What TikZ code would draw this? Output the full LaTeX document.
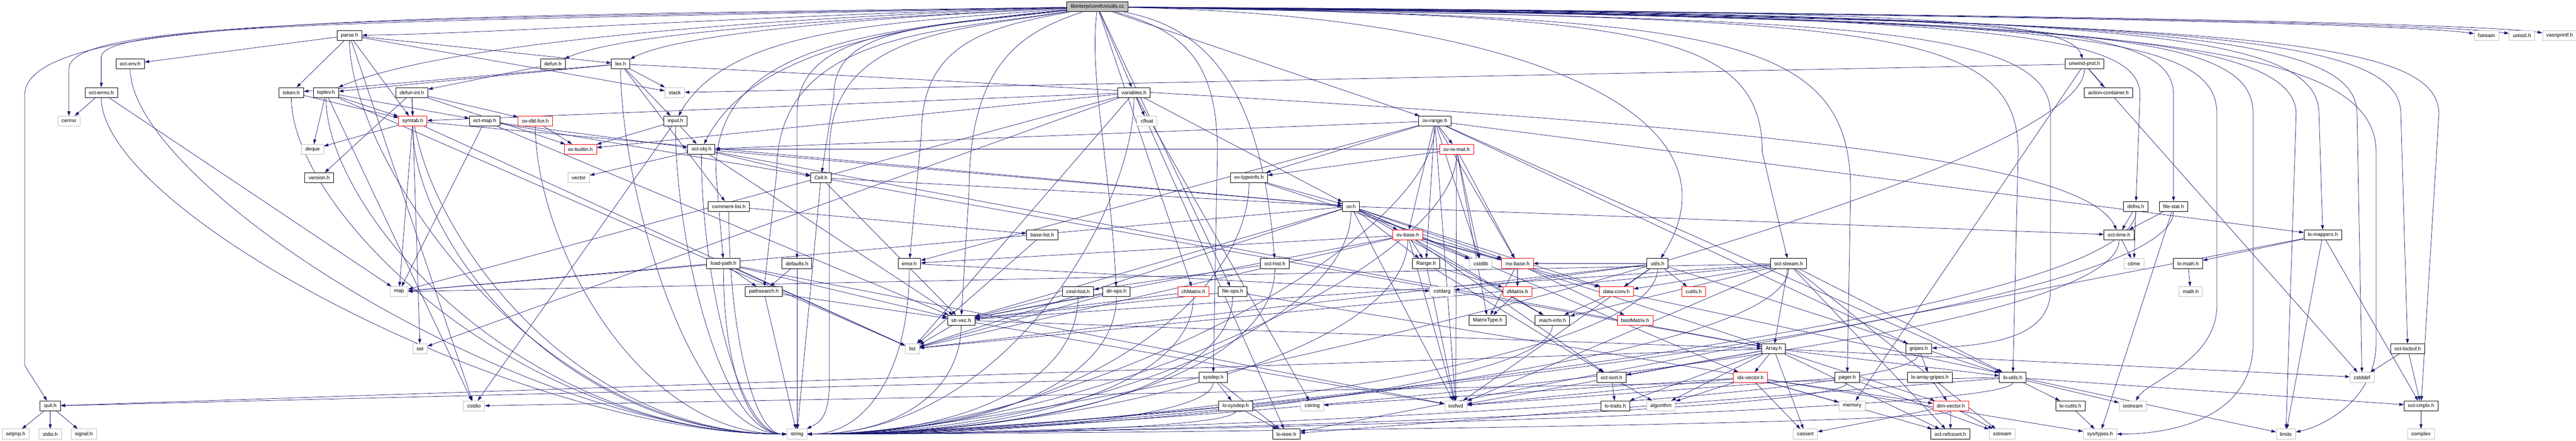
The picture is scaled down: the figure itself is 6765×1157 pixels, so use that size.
\documentclass[tikz,border=0pt]{standalone}
\usepackage{fontspec}
\setmainfont{Liberation Sans}
\usetikzlibrary{arrows.meta}
\definecolor{edgeblue}{RGB}{25,25,112}
\definecolor{sysgray}{RGB}{191,191,191}
\pgfdeclarelayer{bg}
\pgfsetlayers{bg,main}

\begin{document}
\begin{tikzpicture}[x=1pt, y=-1pt,
  box/.style={rectangle, fill=white, inner xsep=10pt, inner ysep=0pt, minimum height=26pt, font=\fontsize{13.5}{16}\selectfont, line width=1.3pt},
  hdr/.style={box, draw=black},
  sys/.style={box, draw=sysgray},
  trunc/.style={box, draw=red, line width=1pt},
  rootbox/.style={box, draw=black, fill=sysgray},
  incl/.style={draw=edgeblue, line width=1pt, -{Triangle[length=12pt,width=8pt]}}]
\useasboundingbox (0,0) rectangle (6765,1157);

\node[rootbox] (root) at (2882,18) {libinterp/corefcn/utils.cc};

\node[hdr] (parse) at (918,93) {parse.h};
\node[sys] (fstream) at (6530,93) {fstream};
\node[sys] (unistd) at (6623,93) {unistd.h};
\node[sys] (vasnprintf) at (6722,93) {vasnprintf.h};

\node[hdr] (octenv) at (342,168) {oct-env.h};
\node[hdr] (defun) at (1452,168) {defun.h};
\node[hdr] (lex) at (1630,168) {lex.h};
\node[hdr] (unwindprot) at (5474,168) {unwind-prot.h};

\node[hdr] (octerrno) at (266,243) {oct-errno.h};
\node[hdr] (token) at (765,243) {token.h};
\node[hdr] (toplev) at (856,243) {toplev.h};
\node[hdr] (defunint) at (1082,243) {defun-int.h};
\node[sys] (stack) at (1772,243) {stack};
\node[hdr] (variables) at (2978,243) {variables.h};
\node[hdr] (actioncontainer) at (5537,243) {action-container.h};

\node[sys] (cerrno) at (181,318) {cerrno};
\node[trunc] (symtab) at (1084,318) {symtab.h};
\node[hdr] (octmap) at (1273,318) {oct-map.h};
\node[trunc] (ovdldfcn) at (1406,318) {ov-dld-fcn.h};
\node[hdr] (input) at (1774,318) {input.h};
\node[sys] (cfloat) at (3012,318) {cfloat};
\node[hdr] (ovrange) at (3768,318) {ov-range.h};

\node[sys] (deque) at (821,392) {deque};
\node[trunc] (ovbuiltin) at (1524,392) {ov-builtin.h};
\node[hdr] (octobj) at (1842,392) {oct-obj.h};
\node[trunc] (ovremat) at (3825,392) {ov-re-mat.h};

\node[hdr] (version) at (838,467) {version.h};
\node[sys] (vector) at (1520,467) {vector};
\node[hdr] (cell) at (2156,467) {Cell.h};
\node[hdr] (ovtypeinfo) at (3280,467) {ov-typeinfo.h};

\node[hdr] (commentlist) at (1914,542) {comment-list.h};
\node[hdr] (ov) at (3548,542) {ov.h};
\node[hdr] (dirfns) at (5609,542) {dirfns.h};
\node[hdr] (filestat) at (5708,542) {file-stat.h};

\node[hdr] (baselist) at (2737,617) {base-list.h};
\node[trunc] (ovbase) at (3697,617) {ov-base.h};
\node[hdr] (octtime) at (5565,617) {oct-time.h};
\node[hdr] (lomappers) at (6100,617) {lo-mappers.h};

\node[hdr] (loadpath) at (1900,692) {load-path.h};
\node[hdr] (defaults) at (2093,692) {defaults.h};
\node[hdr] (error) at (2388,692) {error.h};
\node[hdr] (octhist) at (3348,692) {oct-hist.h};
\node[hdr] (range) at (3745,692) {Range.h};
\node[sys] (cstdlib) at (3889,692) {cstdlib};
\node[trunc] (mxbase) at (3985,692) {mx-base.h};
\node[hdr] (utilsh) at (4353,692) {utils.h};
\node[hdr] (octstream) at (4697,692) {oct-stream.h};
\node[sys] (ctime) at (5604,692) {ctime};
\node[hdr] (lomath) at (5746,692) {lo-math.h};

\node[sys] (map) at (1048,766) {map};
\node[hdr] (pathsearch) at (2006,766) {pathsearch.h};
\node[hdr] (cmdhist) at (2831,766) {cmd-hist.h};
\node[hdr] (dirops) at (2932,766) {dir-ops.h};
\node[trunc] (chmatrix) at (3134,766) {chMatrix.h};
\node[hdr] (fileops) at (3237,766) {file-ops.h};
\node[sys] (cstdarg) at (3787,766) {cstdarg};
\node[trunc] (dmatrix) at (3985,766) {dMatrix.h};
\node[trunc] (dataconv) at (4245,766) {data-conv.h};
\node[trunc] (cutils) at (4448,766) {cutils.h};
\node[sys] (mathh) at (5753,766) {math.h};

\node[hdr] (strvec) at (2524,841) {str-vec.h};
\node[hdr] (matrixtype) at (3907,841) {MatrixType.h};
\node[hdr] (machinfo) at (4077,841) {mach-info.h};
\node[trunc] (boolmatrix) at (4294,841) {boolMatrix.h};

\node[sys] (set) at (1103,916) {set};
\node[sys] (list) at (2396,916) {list};
\node[hdr] (array) at (4658,916) {Array.h};
\node[hdr] (gripes) at (5039,916) {gripes.h};
\node[hdr] (octlocbuf) at (6323,916) {oct-locbuf.h};

\node[hdr] (sysdep) at (3186,991) {sysdep.h};
\node[hdr] (octsort) at (4232,991) {oct-sort.h};
\node[trunc] (idxvector) at (4597,991) {idx-vector.h};
\node[hdr] (pager) at (4851,991) {pager.h};
\node[hdr] (loarraygripes) at (5068,991) {lo-array-gripes.h};
\node[hdr] (loutils) at (5286,991) {lo-utils.h};
\node[sys] (cstddef) at (6203,991) {cstddef};

\node[hdr] (quit) at (132,1066) {quit.h};
\node[sys] (cstdio) at (1245,1066) {cstdio};
\node[hdr] (losysdep) at (3245,1066) {lo-sysdep.h};
\node[sys] (cstring) at (3446,1066) {cstring};
\node[sys] (iosfwd) at (3823,1066) {iosfwd};
\node[hdr] (lotraits) at (4242,1066) {lo-traits.h};
\node[sys] (algorithm) at (4362,1066) {algorithm};
\node[sys] (memory) at (4864,1066) {memory};
\node[trunc] (dimvector) at (5123,1066) {dim-vector.h};
\node[hdr] (locutils) at (5437,1066) {lo-cutils.h};
\node[sys] (iostream) at (5601,1066) {iostream};
\node[hdr] (octcmplx) at (6358,1066) {oct-cmplx.h};

\node[sys] (setjmp) at (41,1140) {setjmp.h};
\node[sys] (stdioh) at (132,1140) {stdio.h};
\node[sys] (signalh) at (220,1140) {signal.h};
\node[sys] (string) at (2093,1140) {string};
\node[hdr] (loieee) at (3378,1140) {lo-ieee.h};
\node[sys] (cassert) at (4741,1140) {cassert};
\node[hdr] (octrefcount) at (5122,1140) {oct-refcount.h};
\node[sys] (sstream) at (5258,1140) {sstream};
\node[sys] (systypes) at (5515,1140) {sys/types.h};
\node[sys] (limits) at (6003,1140) {limits};
\node[sys] (complex) at (6358,1140) {complex};

\begin{pgfonlayer}{bg}
\draw[incl] (root) .. controls (2000,40) and (1300,88) .. (parse);
\draw[incl] (root) .. controls (1200,55) and (266,55) .. (266,150) -- (octerrno);
\draw[incl] (root) .. controls (1100,50) and (181,50) .. (181,180) -- (cerrno);
\draw[incl] (root) .. controls (1000,45) and (65,45) .. (65,250) -- (65,960) -- (quit);
\draw[incl] (root) .. controls (1900,50) and (1150,120) .. (toplev);
\draw[incl] (root) .. controls (2300,45) and (1650,80) .. (defun);
\draw[incl] (root) .. controls (2400,40) and (1800,80) .. (lex);
\draw[incl] (root) .. controls (2300,60) and (1910,80) .. (input);
\draw[incl] (root) .. controls (2400,65) and (1980,120) .. (octobj);
\draw[incl] (root) .. controls (2400,70) and (2190,80) .. (2190,250) -- (cell);
\draw[incl] (root) .. controls (2500,80) and (2178,90) .. (2178,400) -- (2178,1000) .. controls (2178,1100) and (2150,1110) .. (string);
\draw[incl] (root) .. controls (2300,80) and (1880,110) .. (1880,450) -- (loadpath);
\draw[incl] (root) .. controls (2400,75) and (2093,80) .. (2093,300) -- (defaults);
\draw[incl] (root) .. controls (2450,85) and (2040,90) .. (2040,450) -- (pathsearch);
\draw[incl] (root) .. controls (2600,70) and (2420,110) .. (2420,350) -- (error);
\draw[incl] (root) .. controls (2700,80) and (2545,150) .. (2545,500) -- (strvec);
\draw[incl] (root) -- (variables);
\draw[incl] (root) .. controls (2860,200) and (2912,400) .. (dirops);
\draw[incl] (root) -- (chmatrix);
\draw[incl] (root) -- (fileops);
\draw[incl] (root) .. controls (3100,80) and (3197,150) .. (3197,400) -- (sysdep);
\draw[incl] (root) .. controls (3150,70) and (3310,200) .. (octhist);
\draw[incl] (root) -- (ovrange);
\draw[incl] (root) .. controls (4000,40) and (4600,300) .. (utilsh);
\draw[incl] (root) .. controls (4300,40) and (4628,80) .. (4628,400) -- (octstream);
\draw[incl] (root) .. controls (4500,45) and (4860,80) .. (4860,500) -- (pager);
\draw[incl] (root) .. controls (4800,50) and (5385,60) .. (5385,300) -- (5385,760) .. controls (5385,880) and (5250,905) .. (gripes);
\draw[incl] (root) .. controls (4900,50) and (5300,60) .. (5300,400) -- (loutils);
\draw[incl] (root) .. controls (4900,30) and (5430,40) .. (unwindprot);
\draw[incl] (root) .. controls (5200,40) and (5620,80) .. (5620,250) -- (dirfns);
\draw[incl] (root) .. controls (5300,35) and (5708,60) .. (5708,250) -- (filestat);
\draw[incl] (root) .. controls (5500,40) and (6090,70) .. (6090,300) -- (lomappers);
\draw[incl] (root) .. controls (5600,45) and (6190,75) .. (6190,300) -- (cstddef);
\draw[incl] (root) .. controls (5700,50) and (6305,80) .. (6305,300) -- (octlocbuf);
\draw[incl] (root) .. controls (5800,55) and (6405,85) .. (6405,300) -- (octcmplx);
\draw[incl] (root) .. controls (5500,50) and (6240,90) .. (6240,400) -- (6240,900) .. controls (6240,1050) and (6100,1120) .. (limits);
\draw[incl] (root) .. controls (5300,45) and (6030,80) .. (6030,300) -- (limits);
\draw[incl] (root) .. controls (5000,35) and (6300,60) .. (fstream);
\draw[incl] (root) .. controls (5100,35) and (6400,60) .. (unistd);
\draw[incl] (root) .. controls (5200,35) and (6500,60) .. (vasnprintf);
\draw[incl] (root) .. controls (5400,45) and (5822,80) .. (5822,300) -- (5822,800) .. controls (5822,950) and (5640,1000) .. (iostream);
\draw[incl] (root) .. controls (5500,50) and (5917,80) .. (5917,300) -- (5917,900) .. controls (5917,1100) and (5700,1140) .. (systypes);

% into string, from the left
\draw[incl] (parse.south) .. controls +(0,300) and +(-680,0) .. (string.west);
\draw[incl] (octenv.south) .. controls +(0,300) and +(-700,0) .. (string.west);
\draw[incl] (octerrno.south) .. controls +(0,300) and +(-700,0) .. (string.west);
\draw[incl] (token.south) .. controls +(0,300) and +(-700,0) .. (string.west);
\draw[incl] (toplev.south) .. controls +(0,300) and +(-700,0) .. (string.west);
\draw[incl] (defunint.south) .. controls +(0,300) and +(-590,0) .. (string.west);
\draw[incl] (symtab.south) .. controls +(0,300) and +(-590,0) .. (string.west);
\draw[incl] (lex.south) .. controls +(0,300) and +(-260,0) .. (string.west);
\draw[incl] (input.south) .. controls +(0,300) and +(-175,0) .. (string.west);
\draw[incl] (ovdldfcn.south) .. controls +(0,300) and +(-395,0) .. (string.west);
\draw[incl] (octobj.south) .. controls +(0,300) and +(-134,0) .. (string.west);
\draw[incl] (commentlist.south) .. controls +(0,300) and +(-90,0) .. (string.west);
\draw[incl] (loadpath.south) .. controls +(0,260) and +(-100,0) .. (string.west);
\draw[incl] (defaults) -- (string);
\draw[incl] (pathsearch) -- (string);
\draw[incl] (cell) -- (string);
% into string, from the right
\draw[incl] (variables.south) .. controls +(0,300) and +(514,0) .. (string.east);
\draw[incl] (ovtypeinfo.south) .. controls +(0,300) and +(695,0) .. (string.east);
\draw[incl] (error.south) .. controls +(0,260) and +(160,0) .. (string.east);
\draw[incl] (octhist.south) .. controls +(0,260) and +(700,0) .. (string.east);
\draw[incl] (cmdhist.south) .. controls +(0,217) and +(426,0) .. (string.east);
\draw[incl] (dirops.south) .. controls +(0,217) and +(487,0) .. (string.east);
\draw[incl] (fileops.south) .. controls +(0,217) and +(670,0) .. (string.east);
\draw[incl] (chmatrix.south) .. controls +(0,217) and +(608,0) .. (string.east);
\draw[incl] (strvec.south) .. controls +(0,170) and +(242,0) .. (string.east);
\draw[incl] (sysdep.south) .. controls +(0,80) and +(640,0) .. (string.east);
\draw[incl] (losysdep.south) .. controls +(0,35) and +(675,0) .. (string.east);
\draw[incl] (ovrange.south) .. controls +(0,300) and +(700,0) .. (string.east);
\draw[incl] (ovremat.south) .. controls +(0,300) and +(700,0) .. (string.east);
\draw[incl] (ov.south) .. controls +(0,300) and +(700,0) .. (string.east);
\draw[incl] (ovbase.south) .. controls +(0,300) and +(700,0) .. (string.east);
\draw[incl] (utilsh.south) .. controls +(0,260) and +(700,0) .. (string.east);
\draw[incl] (machinfo.south) .. controls +(0,170) and +(700,0) .. (string.east);
\draw[incl] (unwindprot.south) .. controls +(0,300) and +(700,0) .. (string.east);
\draw[incl] (dirfns.south) .. controls +(0,300) and +(700,0) .. (string.east);
\draw[incl] (filestat.south) .. controls +(0,300) and +(700,0) .. (string.east);
\draw[incl] (octtime.south) .. controls +(0,300) and +(700,0) .. (string.east);
\draw[incl] (octstream.south) .. controls +(0,260) and +(700,0) .. (string.east);
\draw[incl] (gripes.south) .. controls +(0,126) and +(700,0) .. (string.east);
\draw[incl] (pager.south) .. controls +(0,80) and +(700,0) .. (string.east);
\draw[incl] (loutils.south) .. controls +(0,80) and +(700,0) .. (string.east);
\draw[incl] (dimvector.south) .. controls +(0,35) and +(700,0) .. (string.east);

\draw[incl] (parse) -- (octenv);
\draw[incl] (parse) -- (token);
\draw[incl] (parse) -- (symtab);
\draw[incl] (parse) -- (lex);
\draw[incl] (parse) -- (stack);
\draw[incl] (parse) -- (cstdio);
\draw[incl] (octerrno) -- (cerrno);
\draw[incl] (octerrno) -- (map);
\draw[incl] (token) -- (symtab);
\draw[incl] (toplev) -- (deque);
\draw[incl] (toplev) -- (symtab);
\draw[incl] (toplev) -- (cstdio);
\draw[incl] (toplev) -- (octmap);
\draw[incl] (toplev) -- (list);
\draw[incl] (defunint) -- (symtab);
\draw[incl] (defunint) -- (version);
\draw[incl] (defunint) -- (ovbuiltin);
\draw[incl] (defunint) -- (ovdldfcn);
\draw[incl] (symtab) -- (deque);
\draw[incl] (symtab) -- (map);
\draw[incl] (symtab) -- (set);
\draw[incl] (symtab) -- (list);
\draw[incl] (symtab) -- (ov);
\draw[incl] (defun) -- (defunint);
\draw[incl] (lex) -- (token);
\draw[incl] (lex) -- (toplev);
\draw[incl] (lex) -- (stack);
\draw[incl] (lex) -- (input);
\draw[incl] (lex) -- (commentlist);
\draw[incl] (lex) .. controls (4200,300) and (5450,380) .. (octtime);
\draw[incl] (input) -- (octobj);
\draw[incl] (input) -- (cstdio);
\draw[incl] (input) -- (ovbuiltin);
\draw[incl] (ovdldfcn) -- (ovbuiltin);
\draw[incl] (octmap) -- (octobj);
\draw[incl] (octmap) -- (cell);
\draw[incl] (octmap) -- (map);
\draw[incl] (octmap) -- (strvec);
\draw[incl] (octobj) -- (vector);
\draw[incl] (octobj) -- (cell);
\draw[incl] (octobj) -- (ov);
\draw[incl] (octobj) -- (strvec);
\draw[incl] (octobj) -- (array);
\draw[incl] (cell) -- (array);
\draw[incl] (cell) -- (strvec);
\draw[incl] (cell) -- (ov);
\draw[incl] (commentlist) -- (baselist);
\draw[incl] (loadpath) -- (pathsearch);
\draw[incl] (loadpath) -- (strvec);
\draw[incl] (loadpath) -- (iosfwd);
\draw[incl] (loadpath) -- (list);
\draw[incl] (loadpath) -- (map);
\draw[incl] (defaults) -- (pathsearch);
\draw[incl] (pathsearch) -- (strvec);
\draw[incl] (variables) -- (cfloat);
\draw[incl] (variables) -- (ov);
\draw[incl] (variables) -- (ovbuiltin);
\draw[incl] (variables) -- (symtab);
\draw[incl] (variables) -- (map);
\draw[incl] (variables) -- (set);
\draw[incl] (variables) -- (list);
\draw[incl] (variables) -- (loieee);
\draw[incl] (variables) -- (cstring);
\draw[incl] (ovtypeinfo) -- (array);
\draw[incl] (ovtypeinfo) -- (ov);
\draw[incl] (baselist) -- (list);
\draw[incl] (error) -- (cstdarg);
\draw[incl] (octhist) -- (cmdhist);
\draw[incl] (cmdhist) -- (strvec);
\draw[incl] (dirops) -- (strvec);
\draw[incl] (dirops) -- (list);
\draw[incl] (fileops) -- (strvec);
\draw[incl] (fileops) -- (systypes);
\draw[incl] (chmatrix) -- (strvec);
\draw[incl] (strvec) -- (list);
\draw[incl] (strvec) -- (iosfwd);
\draw[incl] (strvec) -- (array);
\draw[incl] (sysdep) -- (losysdep);
\draw[incl] (sysdep) -- (loieee);
\draw[incl] (sysdep) -- (quit);
\draw[incl] (losysdep) -- (loieee);
\draw[incl] (ovrange) -- (ovremat);
\draw[incl] (ovrange) -- (range);
\draw[incl] (ovrange) -- (cstdlib);
\draw[incl] (ovrange) -- (iosfwd);
\draw[incl] (ovrange) -- (mxbase);
\draw[incl] (ovrange) -- (lomappers);
\draw[incl] (ovrange) -- (loutils);
\draw[incl] (ovrange) -- (octobj);
\draw[incl] (ovrange) -- (ovbase);
\draw[incl] (ovrange) -- (ovtypeinfo);
\draw[incl] (ovrange) -- (error);
\draw[incl] (ovrange) -- (gripes);
\draw[incl] (ovremat) -- (cstdlib);
\draw[incl] (ovremat) -- (iosfwd);
\draw[incl] (ovremat) -- (mxbase);
\draw[incl] (ovremat) -- (octobj);
\draw[incl] (ovremat) -- (ovtypeinfo);
\draw[incl] (ovremat) -- (matrixtype);
\draw[incl] (ov) -- (cstdlib);
\draw[incl] (ov) -- (iosfwd);
\draw[incl] (ov) -- (list);
\draw[incl] (ov) -- (map);
\draw[incl] (ov) -- (range);
\draw[incl] (ov) -- (dataconv);
\draw[incl] (ov) -- (idxvector);
\draw[incl] (ov) -- (machinfo);
\draw[incl] (ov) -- (mxbase);
\draw[incl] (ov) -- (octtime);
\draw[incl] (ov) -- (strvec);
\draw[incl] (ov) -- (ovbase);
\draw[incl] (ovbase) -- (cstdlib);
\draw[incl] (ovbase) -- (iosfwd);
\draw[incl] (ovbase) -- (list);
\draw[incl] (ovbase) -- (range);
\draw[incl] (ovbase) -- (dataconv);
\draw[incl] (ovbase) -- (mxbase);
\draw[incl] (ovbase) -- (machinfo);
\draw[incl] (ovbase) -- (octsort);
\draw[incl] (ovbase) -- (strvec);
\draw[incl] (ovbase) -- (error);
\draw[incl] (range) -- (dmatrix);
\draw[incl] (range) -- (iosfwd);
\draw[incl] (range) -- (octsort);
\draw[incl] (mxbase) -- (dmatrix);
\draw[incl] (mxbase) -- (boolmatrix);
\draw[incl] (mxbase) -- (matrixtype);
\draw[incl] (dmatrix) -- (matrixtype);
\draw[incl] (utilsh) -- (cstdarg);
\draw[incl] (utilsh) -- (iosfwd);
\draw[incl] (utilsh) -- (list);
\draw[incl] (utilsh) -- (cutils);
\draw[incl] (utilsh) -- (dataconv);
\draw[incl] (utilsh) -- (loutils);
\draw[incl] (utilsh) -- (mxbase);
\draw[incl] (dataconv) -- (machinfo);
\draw[incl] (dataconv) -- (limits);
\draw[incl] (octsort) -- (lotraits);
\draw[incl] (octsort) -- (algorithm);
\draw[incl] (unwindprot) -- (actioncontainer);
\draw[incl] (unwindprot) -- (cstddef);
\draw[incl] (unwindprot) -- (memory);
\draw[incl] (unwindprot) -- (stack);
\draw[incl] (dirfns) -- (octtime);
\draw[incl] (dirfns) -- (ctime);
\draw[incl] (filestat) -- (octtime);
\draw[incl] (filestat) -- (systypes);
\draw[incl] (octtime) -- (ctime);
\draw[incl] (octstream) -- (iosfwd);
\draw[incl] (octstream) -- (sstream);
\draw[incl] (octstream) -- (map);
\draw[incl] (octstream) -- (list);
\draw[incl] (octstream) -- (array);
\draw[incl] (octstream) -- (dataconv);
\draw[incl] (octstream) -- (loutils);
\draw[incl] (octstream) -- (machinfo);
\draw[incl] (octstream) -- (octrefcount);
\draw[incl] (octstream) -- (strvec);
\draw[incl] (array) -- (cassert);
\draw[incl] (array) -- (cstddef);
\draw[incl] (array) -- (algorithm);
\draw[incl] (array) -- (iosfwd);
\draw[incl] (array) -- (dimvector);
\draw[incl] (array) -- (idxvector);
\draw[incl] (array) -- (lotraits);
\draw[incl] (array) -- (loutils);
\draw[incl] (array) -- (octsort);
\draw[incl] (array) -- (quit);
\draw[incl] (array) -- (octrefcount);
\draw[incl] (gripes) -- (loarraygripes);
\draw[incl] (idxvector) -- (cassert);
\draw[incl] (idxvector) -- (cstring);
\draw[incl] (idxvector) -- (algorithm);
\draw[incl] (idxvector) -- (iosfwd);
\draw[incl] (idxvector) -- (memory);
\draw[incl] (idxvector) -- (dimvector);
\draw[incl] (idxvector) -- (octrefcount);
\draw[incl] (pager) -- (iosfwd);
\draw[incl] (pager) -- (sstream);
\draw[incl] (loarraygripes) -- (dimvector);
\draw[incl] (loutils) -- (cstdio);
\draw[incl] (loutils) -- (iostream);
\draw[incl] (loutils) -- (locutils);
\draw[incl] (loutils) -- (octcmplx);
\draw[incl] (loutils) -- (loieee);
\draw[incl] (dimvector) -- (cassert);
\draw[incl] (dimvector) -- (sstream);
\draw[incl] (dimvector) -- (octrefcount);
\draw[incl] (locutils) -- (systypes);
\draw[incl] (lomappers) -- (limits);
\draw[incl] (lomappers) -- (octcmplx);
\draw[incl] (lomappers) -- (lomath);
\draw[incl] (lomappers) -- (loieee);
\draw[incl] (lomath) -- (mathh);
\draw[incl] (octlocbuf) -- (cstddef);
\draw[incl] (octlocbuf) -- (octcmplx);
\draw[incl] (octcmplx) -- (complex);
\draw[incl] (quit) -- (setjmp);
\draw[incl] (quit) -- (stdioh);
\draw[incl] (quit) -- (signalh);
\end{pgfonlayer}
\end{tikzpicture}
\end{document}
